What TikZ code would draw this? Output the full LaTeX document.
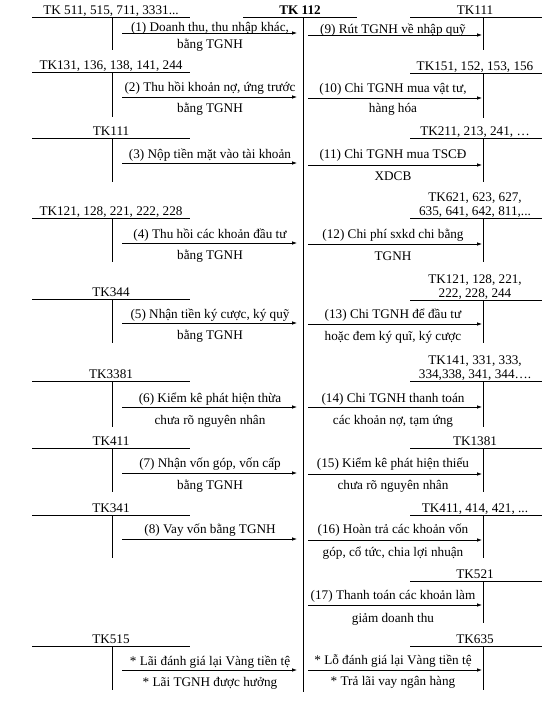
\documentclass[tikz,border=0pt]{standalone}
\usepackage{fontspec}
\setmainfont{Liberation Serif}
\usetikzlibrary{arrows.meta}
% left account: name, line y, vline end y, label
\newcommand\LAcc[4]{%
  \coordinate (#1-l) at (32,#2); \coordinate (#1-r) at (190,#2);
  \coordinate (#1-t) at (112,#2); \coordinate (#1-b) at (112,#3);
  \draw[ln] (#1-l) -- (#1-r); \draw[ln] (#1-t) -- (#1-b);
  \node[txt] (#1-lab) at (111,#2-2.5) {#4};}
% right account
\newcommand\RAcc[4]{%
  \coordinate (#1-l) at (410,#2); \coordinate (#1-r) at (542,#2);
  \coordinate (#1-t) at (483,#2); \coordinate (#1-b) at (483,#3);
  \draw[ln] (#1-l) -- (#1-r); \draw[ln] (#1-t) -- (#1-b);
  \node[txt] (#1-lab) at (475,#2-2.5) {#4};}
% left arrow: name, y, above baseline, above text
\newcommand\LArr[4]{%
  \coordinate (#1-s) at (122,#2); \coordinate (#1-e) at (297,#2);
  \draw[arr] (#1-s) -- (#1-e);
  \node[txt] (#1-a) at (210,#3) {#4};}
\newcommand\RArr[4]{%
  \coordinate (#1-s) at (308,#2); \coordinate (#1-e) at (482,#2);
  \draw[arr] (#1-s) -- (#1-e);
  \node[txt] (#1-a) at (393,#3) {#4};}
\begin{document}
\begin{tikzpicture}[x=1pt,y=-1pt,
  ln/.style={line width=0.8pt},
  arr/.style={line width=0.8pt,-{Latex[length=5pt,width=3.6pt]}},
  txt/.style={inner sep=0pt,anchor=base,font=\fontsize{13.2}{15}\selectfont},
  btxt/.style={inner sep=0pt,anchor=base,font=\fontsize{13.2}{15}\selectfont\bfseries}]
\useasboundingbox (0,0) rectangle (547,707);

% central account TK 112
\node[btxt] (tk112) at (300,14.5) {TK 112};
\coordinate (c-l) at (243,17); \coordinate (c-r) at (357,17);
\coordinate (c-t) at (303,17); \coordinate (c-b) at (303,692);
\draw[ln] (c-l) -- (c-r);
\draw[ln] (c-t) -- (c-b);

% ---------- left side ----------
\LAcc{L1}{17}{50}{TK 511, 515, 711, 3331...}
\LArr{A1}{33}{31.5}{(1) Doanh thu, thu nhập khác,}
\node[txt] (A1-u) at (210,48) {bằng TGNH};

\LAcc{L2}{72}{117}{TK131, 136, 138, 141, 244}
\LArr{A2}{97}{91.5}{(2) Thu hồi khoản nợ, ứng trước}
\node[txt] (A2-u) at (210,112) {bằng TGNH};

\LAcc{L3}{138}{182}{TK111}
\LArr{A3}{163}{158}{(3) Nộp tiền mặt vào tài khoản}

\LAcc{L4}{218}{262}{TK121, 128, 221, 222, 228}
\LArr{A4}{243}{238}{(4) Thu hồi các khoản đầu tư}
\node[txt] (A4-u) at (210,259) {bằng TGNH};

\LAcc{L5}{299}{343}{TK344}
\LArr{A5}{323}{318}{(5) Nhận tiền ký cược, ký quỹ}
\node[txt] (A5-u) at (210,339) {bằng TGNH};

\LAcc{L6}{381}{427}{TK3381}
\LArr{A6}{407}{402}{(6) Kiểm kê phát hiện thừa}
\node[txt] (A6-u) at (210,424) {chưa rõ nguyên nhân};

\LAcc{L7}{448}{492}{TK411}
\LArr{A7}{473}{467.5}{(7) Nhận vốn góp, vốn cấp}
\node[txt] (A7-u) at (210,489) {bằng TGNH};

\LAcc{L8}{515}{558}{TK341}
\LArr{A8}{539}{533.5}{(8) Vay vốn bằng TGNH}

\LAcc{L9}{646}{690}{TK515}
\LArr{A18}{670}{665}{* Lãi đánh giá lại Vàng tiền tệ}
\node[txt] (A18-u) at (210,686) {* Lãi TGNH được hưởng};

% ---------- right side ----------
\RAcc{R1}{17}{50}{TK111}
\RArr{A9}{35}{33}{(9) Rút TGNH về nhập quỹ}

\RAcc{R2}{73}{118}{TK151, 152, 153, 156}
\RArr{A10}{98}{92}{(10) Chi TGNH mua vật tư,}
\node[txt] (A10-u) at (393,112) {hàng hóa};

\RAcc{R3}{138}{182}{TK211, 213, 241, …}
\RArr{A11}{165}{158.5}{(11) Chi TGNH mua TSCĐ}
\node[txt] (A11-u) at (393,180) {XDCB};

\RAcc{R4}{218}{262}{635, 641, 642, 811,...}
\node[txt] (R4-lab2) at (475,201.5) {TK621, 623, 627,};
\RArr{A12}{244}{238.5}{(12) Chi phí sxkd chi bằng}
\node[txt] (A12-u) at (393,260) {TGNH};

\RAcc{R5}{300}{343}{222, 228, 244}
\node[txt] (R5-lab2) at (475,283.5) {TK121, 128, 221,};
\RArr{A13}{324}{318.5}{(13) Chi TGNH để đầu tư}
\node[txt] (A13-u) at (393,340) {hoặc đem ký quĩ, ký cược};

\RAcc{R6}{381}{427}{334,338, 341, 344….}
\node[txt] (R6-lab2) at (475,364.5) {TK141, 331, 333,};
\RArr{A14}{407}{402}{(14) Chi TGNH thanh toán}
\node[txt] (A14-u) at (393,424) {các khoản nợ, tạm ứng};

\RAcc{R7}{448}{492}{TK1381}
\RArr{A15}{474}{467.5}{(15) Kiểm kê phát hiện thiếu}
\node[txt] (A15-u) at (393,489) {chưa rõ nguyên nhân};

\RAcc{R8}{515}{558}{TK411, 414, 421, ...}
\RArr{A16}{540}{533.5}{(16) Hoàn trả các khoản vốn}
\node[txt] (A16-u) at (393,556) {góp, cổ tức, chia lợi nhuận};

\RAcc{R9}{581}{623}{TK521}
\RArr{A17}{605}{599.5}{(17) Thanh toán các khoản làm}
\node[txt] (A17-u) at (393,622) {giảm doanh thu};

\RAcc{R10}{646}{690}{TK635}
\RArr{A19}{670}{664.5}{* Lỗ đánh giá lại Vàng tiền tệ}
\node[txt] (A19-u) at (393,685) {* Trả lãi vay ngân hàng};
\end{tikzpicture}
\end{document}
